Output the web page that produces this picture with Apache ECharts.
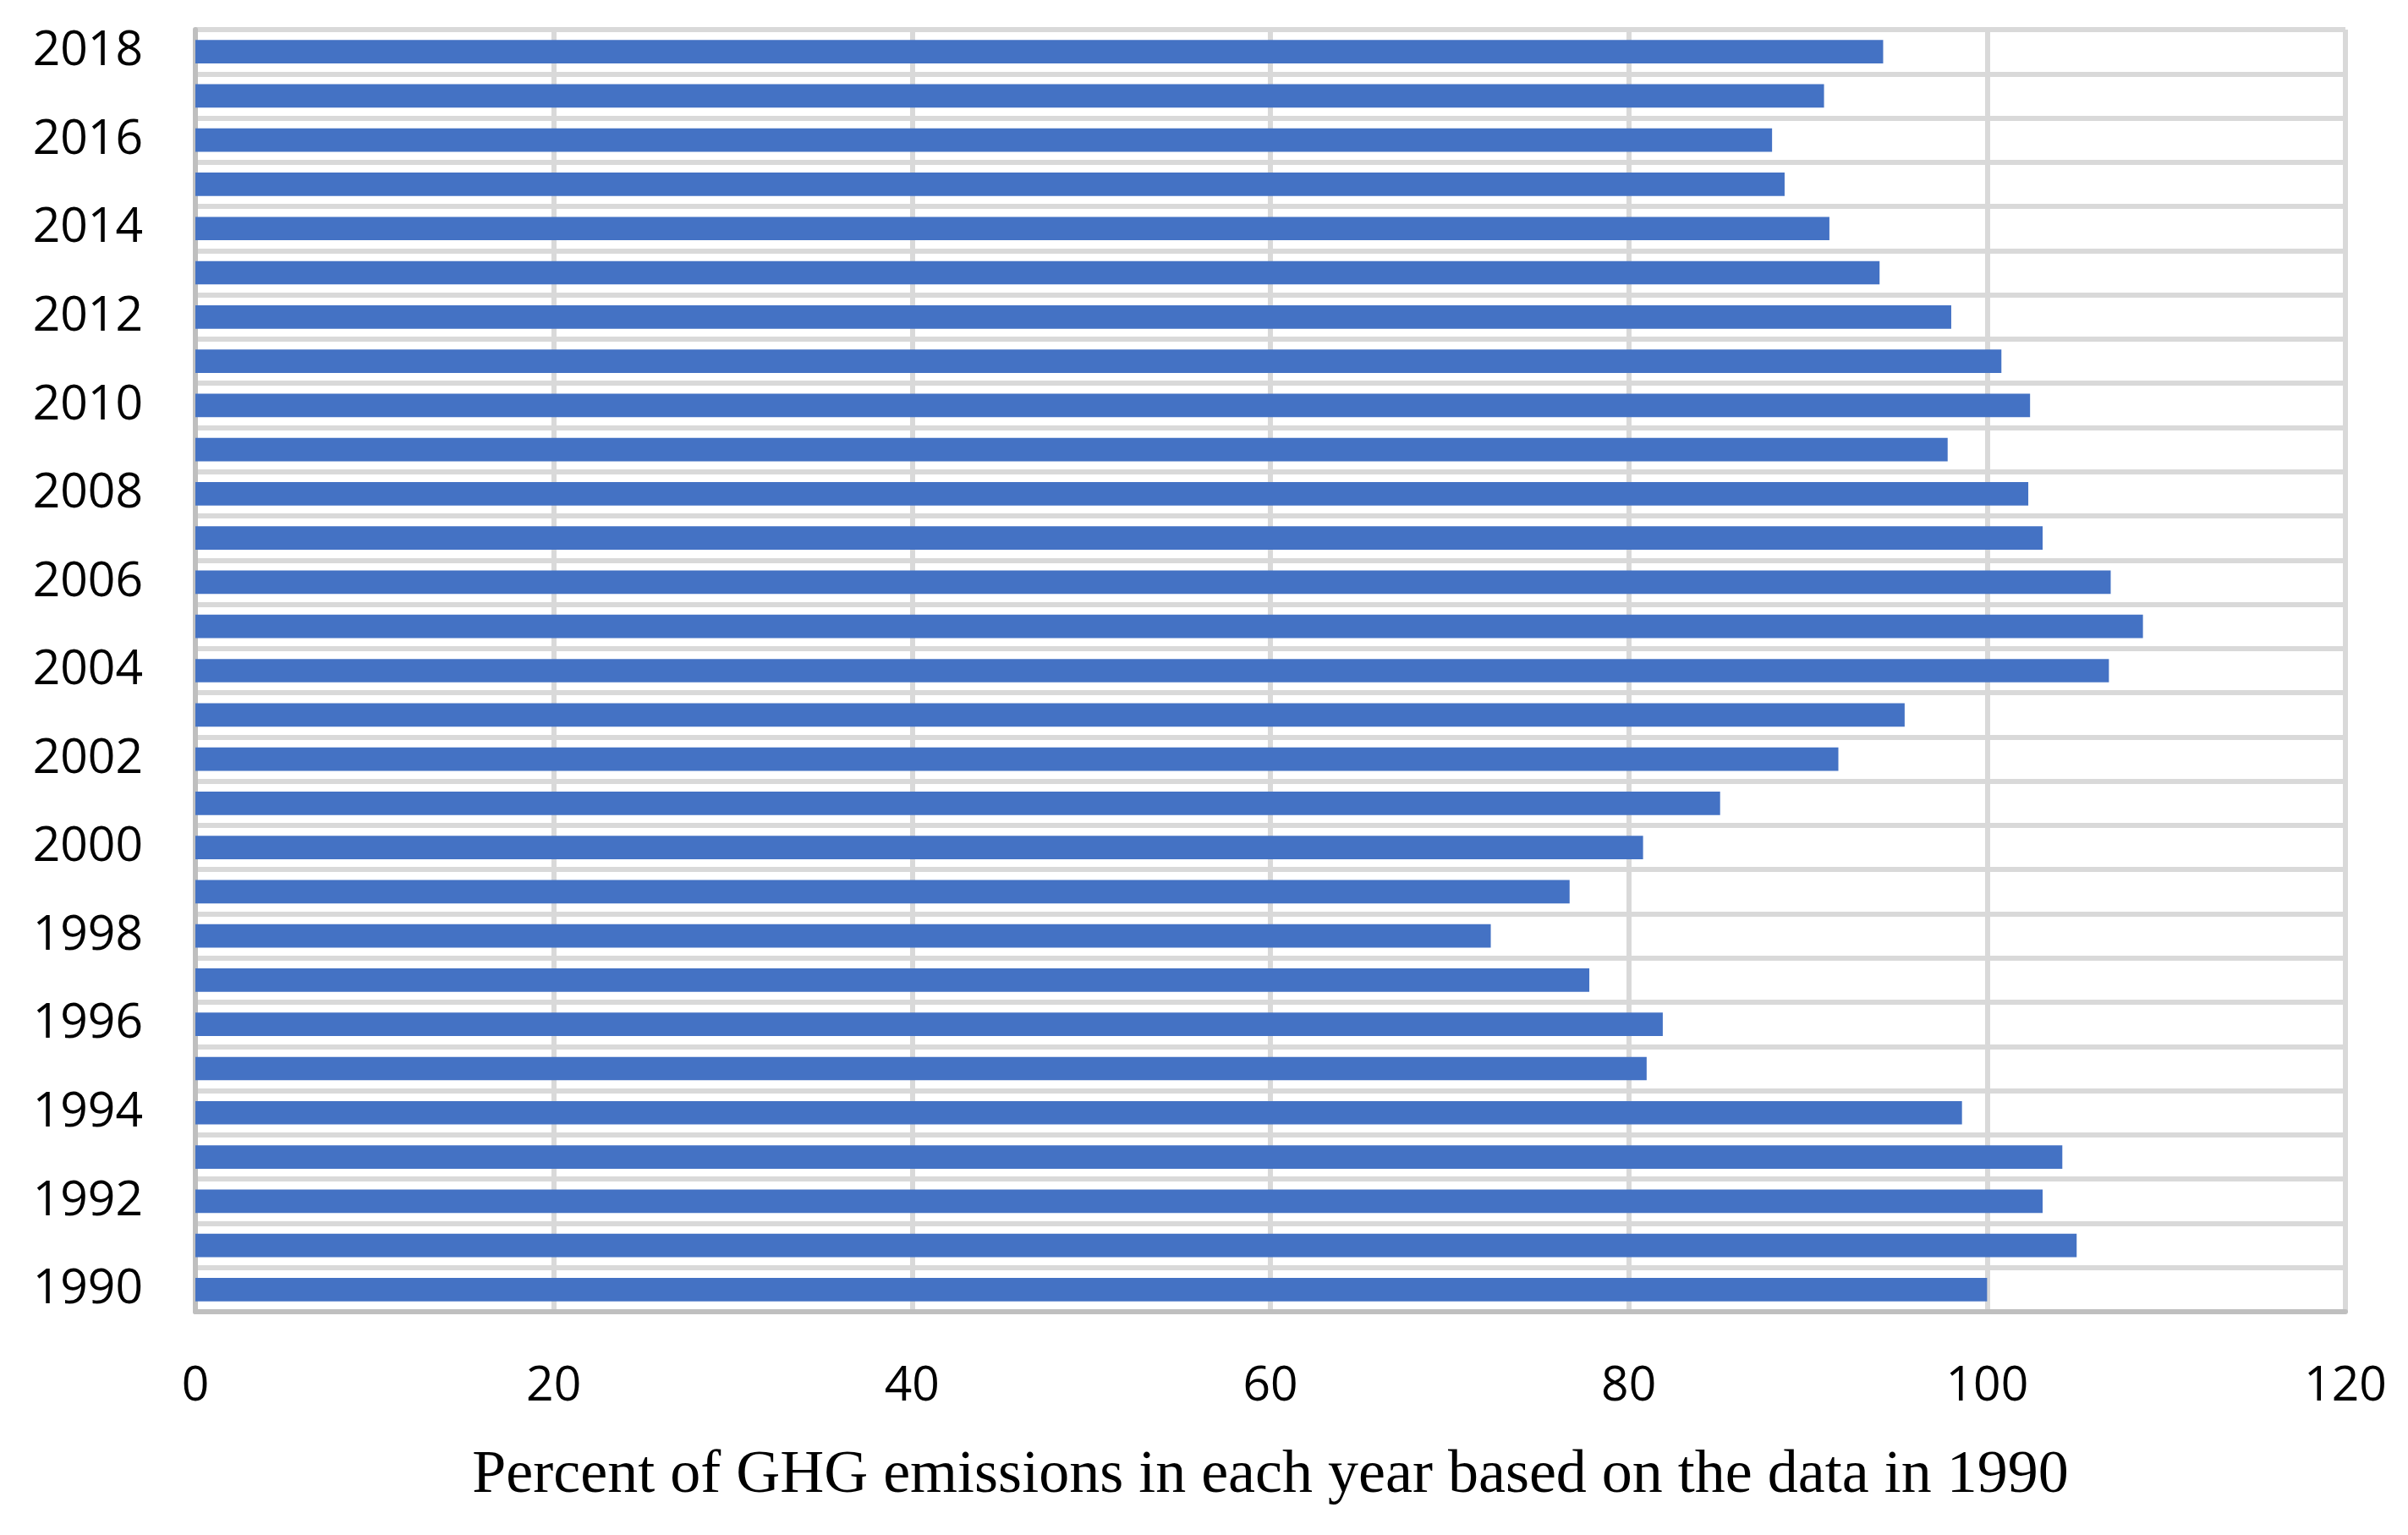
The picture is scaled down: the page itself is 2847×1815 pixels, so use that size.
<!DOCTYPE html>
<html>
<head>
<meta charset="utf-8">
<script src="https://cdn.jsdelivr.net/npm/echarts@6/dist/echarts.min.js"></script>
<style>
html,body{margin:0;padding:0;background:#fff;}
#chart{width:2847px;height:1815px;}
</style>
</head>
<body>
<div id="chart"></div>
<script>
const years = ['1990','1991','1992','1993','1994','1995','1996','1997','1998','1999','2000','2001','2002','2003','2004','2005','2006','2007','2008','2009','2010','2011','2012','2013','2014','2015','2016','2017','2018'];
const percentOf1990 = [100.0,105.0,103.1,104.2,98.6,81.0,81.9,77.8,72.3,76.7,80.8,85.1,91.7,95.4,106.8,108.7,106.9,103.1,102.3,97.8,102.4,100.8,98.0,94.0,91.2,88.7,88.0,90.9,94.2];
const xTicks = {min:0, max:120, interval:20};
const xTitle = 'Percent of GHG emissions in each year based on the data in 1990';

const chart = echarts.init(document.getElementById('chart'), null, {renderer:'canvas'});
chart.setOption({
  backgroundColor:'#ffffff',
  animation:false,
  grid:{left:231, right:74, top:35, bottom:264, containLabel:false},
  xAxis:{
    type:'value', min:xTicks.min, max:xTicks.max, interval:xTicks.interval,
    axisLine:{show:true, lineStyle:{color:'#bfbfbf', width:6}},
    axisTick:{show:false},
    splitLine:{show:true, lineStyle:{color:'#d9d9d9', width:6}},
    axisLabel:{fontFamily:'Open Sans', fontSize:57, color:'#000', margin:60},
    name:xTitle, nameLocation:'middle', nameGap:158,
    nameTextStyle:{fontFamily:'Liberation Serif', fontSize:72, color:'#000'}
  },
  yAxis:{
    type:'category', data:years, boundaryGap:true,
    axisLine:{show:true, lineStyle:{color:'#bfbfbf', width:6}},
    axisTick:{show:false},
    splitLine:{show:true, interval:0, lineStyle:{color:'#d9d9d9', width:6}},
    axisLabel:{interval:1, fontFamily:'Open Sans', fontSize:57, color:'#000', margin:62, padding:[6,0,0,0]}
  },
  series:[{
    type:'bar', data:percentOf1990, barWidth:'53%',
    itemStyle:{color:'#4472C4'}
  }]
});
</script>
</body>
</html>
